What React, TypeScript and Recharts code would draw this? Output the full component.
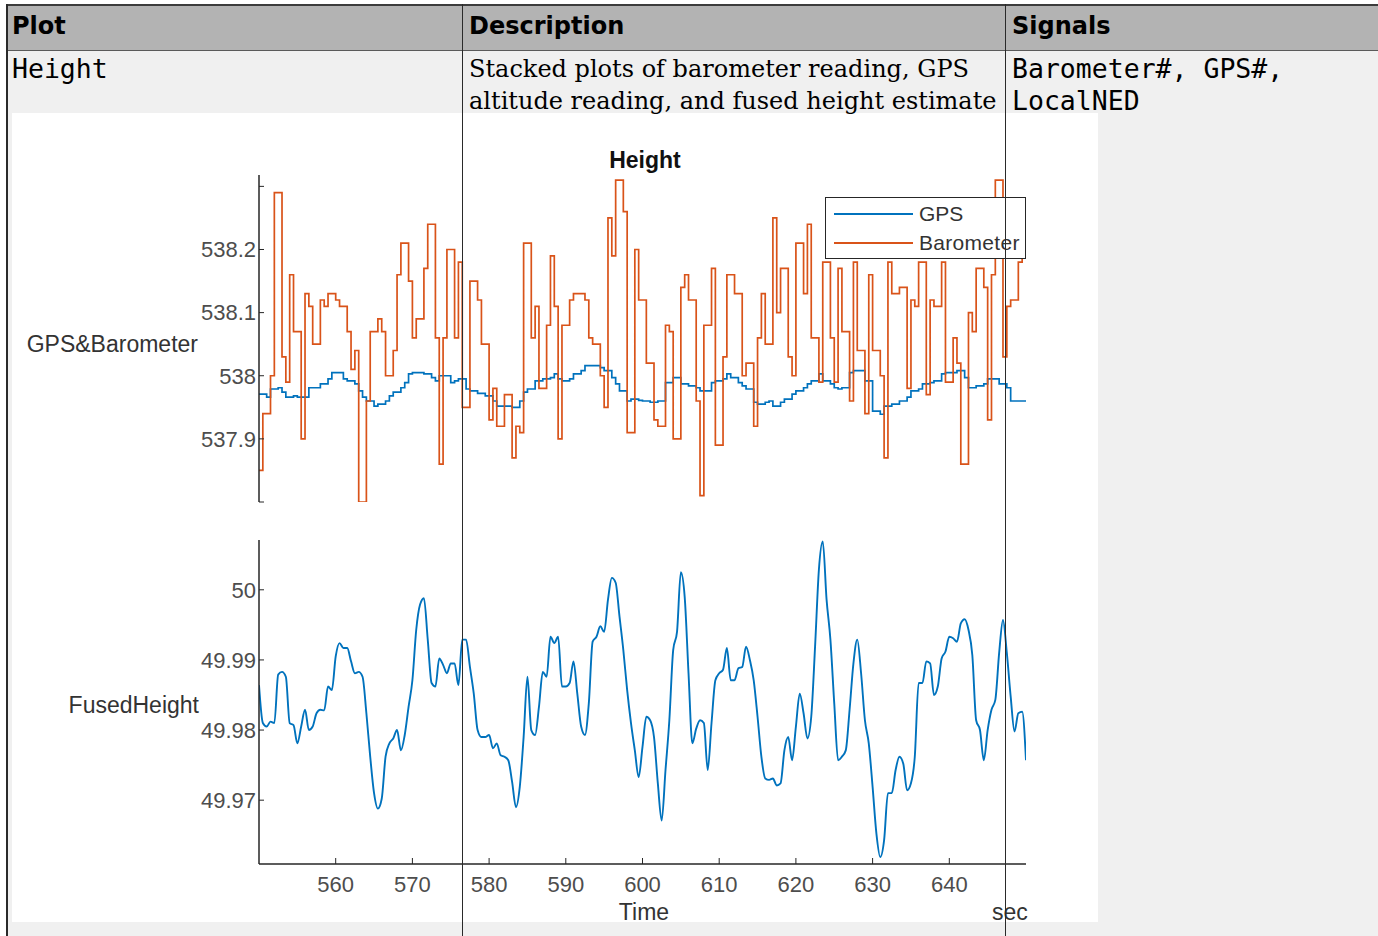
import { Line, LineChart, XAxis, YAxis } from 'recharts';

// sample clock of the logged signals (seconds)
const T0 = 550;
const DT = 0.5;

const BARO = [
  537.85, 537.94, 537.94, 538.0, 538.29, 538.29, 538.03, 537.99, 538.16, 538.07,
  538.07, 537.9, 538.13, 538.11, 538.05, 538.05, 538.12, 538.11, 538.13, 538.13,
  538.12, 538.11, 538.11, 538.07, 538.01, 538.04, 537.8, 537.8, 537.96, 538.07,
  538.07, 538.09, 538.07, 538.0, 538.0, 538.04, 538.16, 538.21, 538.21, 538.15,
  538.06, 538.09, 538.09, 538.17, 538.24, 538.24, 538.06, 537.86, 538.06, 538.2,
  538.2, 538.06, 538.18, 537.95, 537.95, 538.15, 538.15, 538.12, 538.05, 538.05,
  537.93, 537.98, 537.92, 537.92, 537.97, 537.97, 537.87, 537.92, 537.91, 538.21,
  538.21, 538.06, 538.11, 537.98, 537.98, 538.08, 538.19, 538.11, 537.9, 538.08,
  538.08, 538.12, 538.13, 538.13, 538.13, 538.12, 538.06, 538.05, 538.05, 538.0,
  537.95, 538.25, 538.19, 538.31, 538.31, 538.26, 537.91, 537.91, 538.2, 538.12,
  538.12, 538.02, 538.02, 537.93, 537.92, 537.92, 538.08, 538.07, 537.9, 537.9,
  538.14, 538.16, 538.12, 538.12, 537.96, 537.81, 538.08, 538.08, 538.17, 537.89,
  537.89, 538.03, 538.16, 538.16, 538.13, 538.13, 538.0, 538.02, 538.02, 537.92,
  538.06, 538.13, 538.05, 538.05, 538.25, 538.1, 538.17, 538.17, 538.03, 538.0,
  538.21, 538.21, 538.13, 538.24, 538.06, 538.06, 537.99, 538.18, 538.18, 538.06,
  537.99, 538.17, 538.07, 538.07, 537.96, 538.18, 538.04, 538.04, 537.94, 538.16,
  538.04, 538.04, 538.0, 537.87, 538.18, 538.13, 538.13, 538.14, 538.14, 537.98,
  538.12, 538.11, 538.18, 538.18, 537.97, 538.12, 538.11, 538.11, 538.18, 537.99,
  537.99, 538.06, 538.02, 537.86, 537.86, 538.1, 538.07, 538.17, 538.17, 538.14,
  537.93, 538.16, 538.31, 538.31, 538.03, 538.11, 538.12, 538.12, 538.18, 538.2,
  538.2,
];

const GPS = [
  537.971, 537.971, 537.966, 537.979, 537.979, 537.981, 537.974, 537.966, 537.966, 537.968,
  537.966, 537.966, 537.966, 537.981, 537.981, 537.981, 537.987, 537.987, 537.995, 538.005,
  538.005, 538.005, 537.995, 537.992, 537.992, 537.987, 537.976, 537.966, 537.96, 537.96,
  537.952, 537.955, 537.955, 537.96, 537.968, 537.974, 537.974, 537.981, 537.989, 538.003,
  538.005, 538.005, 538.005, 538.003, 538.003, 537.997, 537.992, 538.0, 538.0, 538.0,
  537.989, 537.992, 537.995, 537.995, 537.979, 537.976, 537.976, 537.972, 537.972, 537.968,
  537.968, 537.96, 537.952, 537.952, 537.952, 537.952, 537.95, 537.95, 537.96, 537.974,
  537.979, 537.979, 537.992, 537.992, 537.995, 537.995, 537.997, 538.003, 537.995, 537.992,
  537.992, 537.995, 538.003, 538.003, 538.008, 538.016, 538.016, 538.016, 538.016, 538.013,
  538.008, 538.008, 537.997, 537.987, 537.976, 537.976, 537.96, 537.963, 537.963, 537.961,
  537.96, 537.96, 537.958, 537.958, 537.96, 537.96, 537.989, 537.989, 537.997, 537.997,
  537.987, 537.987, 537.984, 537.984, 537.981, 537.976, 537.976, 537.976, 537.989, 537.992,
  537.992, 537.995, 538.003, 537.997, 537.997, 537.989, 537.984, 537.979, 537.979, 537.958,
  537.955, 537.955, 537.958, 537.96, 537.952, 537.952, 537.958, 537.963, 537.963, 537.971,
  537.976, 537.976, 537.981, 537.987, 537.992, 537.992, 538.003, 537.992, 537.992, 537.987,
  537.981, 537.979, 537.981, 537.981, 538.005, 538.008, 538.008, 538.008, 537.992, 537.992,
  537.944, 537.944, 537.939, 537.952, 537.952, 537.955, 537.955, 537.96, 537.96, 537.966,
  537.976, 537.976, 537.979, 537.987, 537.987, 537.989, 537.992, 537.992, 538.003, 538.005,
  538.005, 538.005, 538.008, 538.008, 537.997, 537.981, 537.981, 537.984, 537.984, 537.987,
  537.995, 537.995, 537.995, 537.987, 537.987, 537.981, 537.96, 537.96, 537.96, 537.96,
  537.96,
];

const FUSED = [
  49.9864, 49.981, 49.9805, 49.9812, 49.981, 49.9879, 49.9883, 49.9876, 49.981, 49.9807,
  49.9781, 49.9805, 49.9829, 49.98, 49.9805, 49.9824, 49.9829, 49.9828, 49.9862, 49.9857,
  49.9905, 49.9924, 49.9917, 49.9917, 49.9898, 49.9881, 49.9883, 49.9876, 49.9824, 49.9762,
  49.971, 49.9688, 49.9702, 49.9762, 49.9781, 49.9788, 49.98, 49.9771, 49.9793, 49.9833,
  49.9871, 49.9943, 49.9979, 49.9988, 49.9929, 49.9867, 49.9862, 49.9902, 49.9893, 49.9881,
  49.9895, 49.9895, 49.9864, 49.9929, 49.9929, 49.989, 49.9852, 49.98, 49.979, 49.979,
  49.9793, 49.9774, 49.9781, 49.9764, 49.9762, 49.9757, 49.9726, 49.969, 49.9719, 49.979,
  49.9876, 49.98, 49.9793, 49.9833, 49.9883, 49.9876, 49.9933, 49.9924, 49.9933, 49.9862,
  49.9862, 49.9867, 49.9898, 49.9852, 49.9805, 49.9793, 49.9838, 49.9926, 49.9933, 49.9948,
  49.994, 49.9986, 50.0017, 50.001, 49.9962, 49.9914, 49.9857, 49.981, 49.9771, 49.9733,
  49.9776, 49.9819, 49.9814, 49.979, 49.9724, 49.9671, 49.9743, 49.9814, 49.9914, 49.994,
  50.0025, 49.999, 49.9881, 49.9781, 49.9802, 49.9814, 49.981, 49.9743, 49.981, 49.9871,
  49.9881, 49.9886, 49.9917, 49.9871, 49.9871, 49.9888, 49.989, 49.9919, 49.99, 49.9871,
  49.9819, 49.9762, 49.9731, 49.9729, 49.9731, 49.9721, 49.9724, 49.9771, 49.979, 49.9757,
  49.9805, 49.9852, 49.9824, 49.9788, 49.9819, 49.9919, 50.0029, 50.0069, 49.9986, 49.9929,
  49.9838, 49.9757, 49.9762, 49.9771, 49.9829, 49.9895, 49.9929, 49.9881, 49.9814, 49.9781,
  49.9719, 49.9652, 49.9619, 49.9643, 49.971, 49.971, 49.9743, 49.9762, 49.9752, 49.9714,
  49.9724, 49.9762, 49.9867, 49.9867, 49.9898, 49.9895, 49.985, 49.9862, 49.9902, 49.9912,
  49.9933, 49.9931, 49.9926, 49.9952, 49.9958, 49.9943, 49.9907, 49.9814, 49.98, 49.9757,
  49.98, 49.9829, 49.9843, 49.991, 49.9957, 49.991, 49.9848, 49.9798, 49.9824, 49.9826,
  49.9757,
];

const X_TICKS = [560, 570, 580, 590, 600, 610, 620, 630, 640];
const TOP_TICKS = [537.8, 537.9, 538, 538.1, 538.2, 538.3];
const BOTTOM_TICKS = [49.97, 49.98, 49.99, 50];

const BLUE = '#0072BD';
const ORANGE = '#D95319';
const AXIS = '#262626';
const CHART_FONT = '"Liberation Sans", Arial, sans-serif';

const topData = BARO.map((b, i) => ({ t: T0 + i * DT, baro: b, gps: GPS[i] }));
const fusedData = FUSED.map((f, i) => ({ t: T0 + i * DT, fused: f }));

const tickStyle = { fill: '#4d4d4d', fontSize: 22, fontFamily: CHART_FONT };

function fmtTop(v: number) {
  if (v === 537.8 || v === 538.3) return '';
  return String(Number(v.toFixed(1)));
}

function fmtBottom(v: number) {
  return String(Number(v.toFixed(2)));
}

export default function App() {
  return (
    <div
      style={{
        position: 'absolute',
        left: 0,
        top: 0,
        width: 1378,
        height: 936,
        overflow: 'hidden',
        background: '#ffffff',
      }}
    >
      {/* table header */}
      <div style={{ position: 'absolute', left: 6, top: 4, width: 1372, height: 46, background: '#b3b3b3' }} />
      <div style={{ position: 'absolute', left: 6, top: 4, width: 1372, height: 2, background: '#3c3c3c' }} />
      <div style={{ position: 'absolute', left: 6, top: 50, width: 1372, height: 1, background: '#5a5a5a' }} />
      <div style={{ position: 'absolute', left: 6, top: 51, width: 1372, height: 885, background: '#f0f0f0' }} />

      <HeaderCell left={12} text="Plot" />
      <HeaderCell left={469} text="Description" />
      <HeaderCell left={1012} text="Signals" />

      {/* plot image area */}
      <div style={{ position: 'absolute', left: 12, top: 113, width: 1086, height: 809, background: '#ffffff' }} />

      <div style={{ ...rowText, left: 12, fontFamily: '"DejaVu Sans Mono", monospace', fontSize: 26.5 }}>Height</div>
      <div style={{ ...rowText, left: 469, fontFamily: '"DejaVu Serif", serif', fontSize: 24 }}>
        Stacked plots of barometer reading, GPS
        <br />
        altitude reading, and fused height estimate
      </div>
      <div style={{ ...rowText, left: 1012, fontFamily: '"DejaVu Sans Mono", monospace', fontSize: 26.5 }}>
        Barometer#, GPS#,
        <br />
        LocalNED
      </div>

      <div style={{ ...chartText, left: 545, width: 200, top: 146, textAlign: 'center', fontWeight: 'bold', color: '#111' }}>
        Height
      </div>
      <div style={{ ...chartText, left: 0, width: 198, top: 330, textAlign: 'right' }}>GPS&amp;Barometer</div>
      <div style={{ ...chartText, left: 0, width: 199, top: 691, textAlign: 'right' }}>FusedHeight</div>
      <div style={{ ...chartText, left: 594, width: 100, top: 898, textAlign: 'center' }}>Time</div>
      <div style={{ ...chartText, left: 992, top: 898 }}>sec</div>

      <div style={{ position: 'absolute', left: 12, top: 113 }}>
        <LineChart width={1086} height={400} data={topData} margin={{ top: 62, right: 72, bottom: 11, left: 187 }}>
          <XAxis dataKey="t" type="number" domain={[550, 650]} allowDataOverflow hide />
          <YAxis
            type="number"
            domain={[537.8, 538.318]}
            allowDataOverflow
            ticks={TOP_TICKS}
            interval={0}
            tickFormatter={fmtTop}
            width={60}
            tickSize={-5}
            tickMargin={8}
            tick={tickStyle}
            axisLine={{ stroke: AXIS, strokeWidth: 1.5 }}
            tickLine={{ stroke: AXIS }}
          />
          <Line dataKey="gps" type="stepAfter" stroke={BLUE} strokeWidth={1.7} dot={false} isAnimationActive={false} />
          <Line dataKey="baro" type="stepAfter" stroke={ORANGE} strokeWidth={1.7} dot={false} isAnimationActive={false} />
        </LineChart>
      </div>

      <div style={{ position: 'absolute', left: 12, top: 513 }}>
        <LineChart width={1086} height={409} data={fusedData} margin={{ top: 27, right: 72, bottom: 0, left: 187 }}>
          <XAxis
            dataKey="t"
            type="number"
            domain={[550, 650]}
            allowDataOverflow
            ticks={X_TICKS}
            interval={0}
            height={58}
            tickSize={-6}
            tickMargin={18}
            tick={tickStyle}
            axisLine={{ stroke: AXIS, strokeWidth: 1.5 }}
            tickLine={{ stroke: AXIS }}
          />
          <YAxis
            type="number"
            domain={[49.9609, 50.0071]}
            allowDataOverflow
            ticks={BOTTOM_TICKS}
            interval={0}
            tickFormatter={fmtBottom}
            width={60}
            tickSize={-5}
            tickMargin={8}
            tick={tickStyle}
            axisLine={{ stroke: AXIS, strokeWidth: 1.5 }}
            tickLine={{ stroke: AXIS }}
          />
          <Line dataKey="fused" type="monotone" stroke={BLUE} strokeWidth={1.9} dot={false} isAnimationActive={false} />
        </LineChart>
      </div>

      {/* legend */}
      <div
        style={{
          position: 'absolute',
          left: 825,
          top: 197,
          width: 199,
          height: 60,
          border: '1px solid #262626',
          background: '#ffffff',
        }}
      >
        <div style={{ position: 'absolute', left: 8, top: 15, width: 79, height: 2, background: BLUE }} />
        <div style={{ ...chartText, left: 93, top: 2, fontSize: 21 }}>GPS</div>
        <div style={{ position: 'absolute', left: 8, top: 44, width: 79, height: 2, background: ORANGE }} />
        <div style={{ ...chartText, left: 93, top: 31, fontSize: 21, letterSpacing: 0.3 }}>Barometer</div>
      </div>

      {/* table borders drawn over the plot image */}
      <div style={{ position: 'absolute', left: 6, top: 4, width: 2, height: 932, background: '#2a2a2a', zIndex: 5 }} />
      <div style={{ position: 'absolute', left: 462, top: 4, width: 1, height: 932, background: '#2a2a2a', zIndex: 5 }} />
      <div style={{ position: 'absolute', left: 1005, top: 4, width: 1, height: 932, background: '#2a2a2a', zIndex: 5 }} />
    </div>
  );
}

const rowText = {
  position: 'absolute' as const,
  top: 53,
  lineHeight: '32px',
  color: '#000',
  whiteSpace: 'nowrap' as const,
};

const chartText = {
  position: 'absolute' as const,
  fontFamily: CHART_FONT,
  fontSize: 23,
  lineHeight: '28px',
  color: '#333',
  whiteSpace: 'nowrap' as const,
};

function HeaderCell({ left, text }: { left: number; text: string }) {
  return (
    <div
      style={{
        position: 'absolute',
        left,
        top: 10,
        fontFamily: '"DejaVu Sans", sans-serif',
        fontWeight: 'bold',
        fontSize: 24,
        lineHeight: '32px',
        color: '#000',
        whiteSpace: 'nowrap',
      }}
    >
      {text}
    </div>
  );
}
